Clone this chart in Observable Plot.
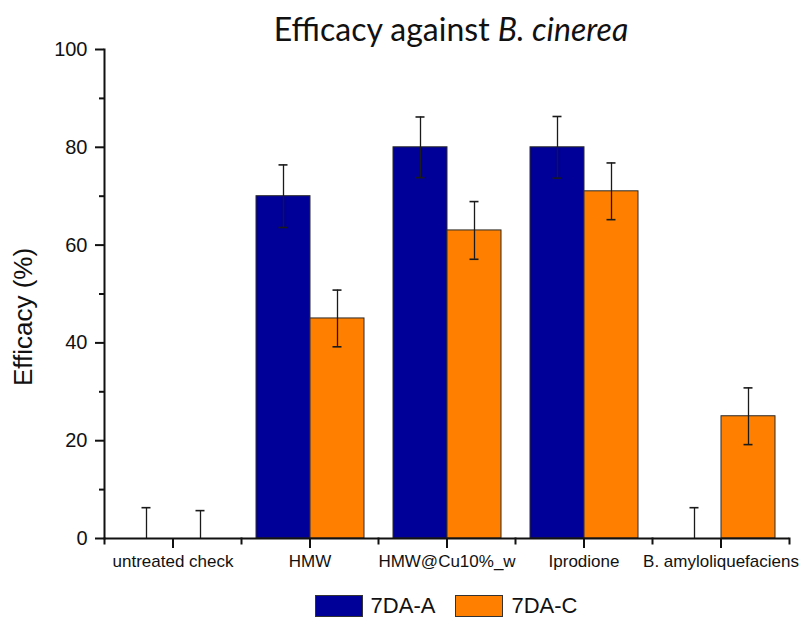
<!DOCTYPE html>
<html>
<head>
<meta charset="utf-8">
<script src="https://cdn.jsdelivr.net/npm/d3@7"></script>
<script src="https://cdn.jsdelivr.net/npm/@observablehq/plot@0.6"></script>
<style>
  html, body { margin: 0; padding: 0; background: #fff; }
  #wrap { position: relative; width: 799px; height: 618px; overflow: hidden; }
  #title { position: absolute; top: 13px; left: 108px; width: 686px; text-align: center;
           font-family: Lato, "Open Sans", sans-serif; font-size: 32px; line-height: 32px; color: #111; }
  #legend { display: flex; justify-content: center; align-items: center; margin-left: 103px; width: 686px;
            margin-top: 13px; font-family: "Liberation Sans", Arial, sans-serif; font-size: 22px; color: #111; }
  .sw { width: 46px; height: 20px; border: 1px solid #333; margin-right: 8px; }
  .item { display: flex; align-items: center; margin: 0 10px; }
</style>
</head>
<body>
<div id="wrap">
  <div id="title">Efficacy against <i>B. cinerea</i></div>
  <div id="chart"></div>
  <div id="legend"></div>
</div>
<script>
const categories = ["untreated check", "HMW", "HMW@Cu10%_w", "Iprodione", "B. amyloliquefaciens"];
const series = ["7DA-A", "7DA-C"];
const valuesA = [0, 70, 80, 80, 0];
const valuesC = [0, 45, 63, 71, 25];
const errorsA = [6.3, 6.4, 6.2, 6.3, 6.3];
const errorsC = [5.7, 5.8, 5.9, 5.8, 5.8];
const colors = ["#000099", "#FF8000"];
const yMajorTicks = [0, 20, 40, 60, 80, 100];
const yMinorTicks = [10, 30, 50, 70, 90];
const yLabel = "Efficacy (%)";

const rows = categories.flatMap((c, i) => [
  {cat: c, series: series[0], value: valuesA[i], err: errorsA[i]},
  {cat: c, series: series[1], value: valuesC[i], err: errorsC[i]}
]);

const W = 799, H = 580, mT = 49, mB = 42, mL = 103, mR = 10;
const plotH = H - mT - mB;
const ink = "#111";

const chart = Plot.plot({
  width: W, height: H,
  marginTop: mT, marginBottom: mB, marginLeft: mL, marginRight: mR,
  style: {fontFamily: "'Liberation Sans', Arial, sans-serif", color: ink, background: "white", overflow: "visible"},
  fx: {domain: categories, padding: 0, label: null},
  x: {domain: series, paddingInner: 0, paddingOuter: 0.25, axis: null},
  y: {domain: [0, 100], label: null},
  color: {domain: series, range: colors},
  marks: [
    Plot.barY(rows, {fx: "cat", x: "series", y: "value", fill: "series", stroke: "#2a2a2a", strokeWidth: 1}),
    Plot.ruleX(rows, {fx: "cat", x: "series", y1: d => d.value - d.err, y2: d => d.value + d.err,
      stroke: "#1a1a1a", strokeWidth: 1.3, clip: true}),
    Plot.tickY(rows, {fx: "cat", x: "series", y: d => d.value + d.err, insetLeft: 22.5, insetRight: 22.5,
      stroke: "#1a1a1a", strokeWidth: 1.6, clip: true}),
    Plot.tickY(rows, {fx: "cat", x: "series", y: d => d.value - d.err, insetLeft: 22.5, insetRight: 22.5,
      stroke: "#1a1a1a", strokeWidth: 1.6, clip: true}),
    Plot.ruleY([0], {stroke: ink, strokeWidth: 2}),
    Plot.frame({anchor: "left", facetAnchor: "left", stroke: ink, strokeWidth: 2}),
    Plot.frame({anchor: "left", insetTop: plotH, insetBottom: -5, stroke: ink, strokeWidth: 2}),
    Plot.frame({anchor: "right", facetAnchor: "right", insetTop: plotH, insetBottom: -5, stroke: ink, strokeWidth: 2}),
    Plot.axisY({ticks: yMajorTicks, tickSize: 9, tickPadding: 8, fontSize: 20, stroke: ink, strokeWidth: 2, label: null}),
    Plot.axisY({ticks: yMinorTicks, tickSize: 5, tickFormat: () => "", stroke: ink, strokeWidth: 2, label: null}),
    Plot.axisFx({anchor: "bottom", tickSize: 10, tickPadding: 6, fontSize: 17, stroke: ink, strokeWidth: 2, label: null}),
    Plot.text([yLabel], {text: d => d, frameAnchor: "left", textAnchor: "middle", rotate: -90, dx: -81, dy: 23,
      fontSize: 26, fill: ink, facetAnchor: "left"})
  ]
});
document.getElementById("chart").appendChild(chart);

const legend = document.getElementById("legend");
series.forEach((s, i) => {
  const item = document.createElement("div");
  item.className = "item";
  const sw = document.createElement("div");
  sw.className = "sw";
  sw.style.background = colors[i];
  const lab = document.createElement("span");
  lab.textContent = s;
  item.appendChild(sw);
  item.appendChild(lab);
  legend.appendChild(item);
});
</script>
</body>
</html>
